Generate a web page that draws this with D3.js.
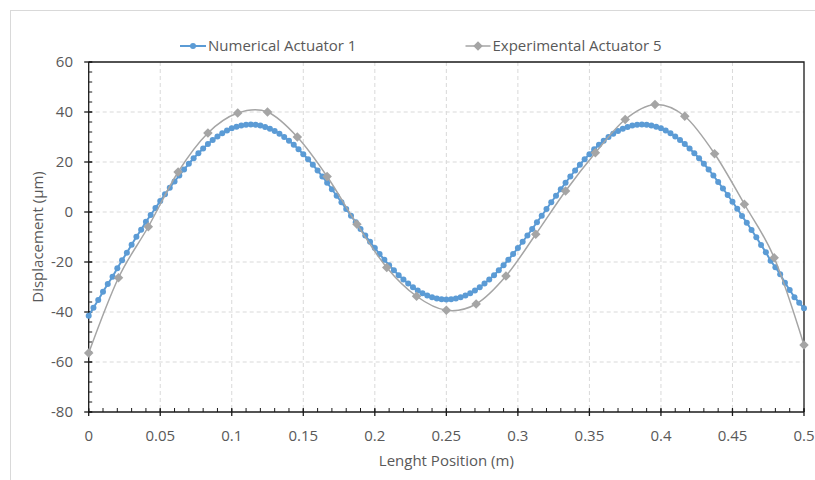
<!DOCTYPE html>
<html>
<head>
<meta charset="utf-8">
<script src="https://cdn.jsdelivr.net/npm/d3@7"></script>
<style>
  html, body { margin: 0; padding: 0; background: #fff; }
  svg { display: block; font-family: "Open Sans", "Segoe UI", sans-serif; }
</style>
</head>
<body>
<svg id="chart" width="815" height="480"></svg>
<script>
// Numerical displacement along the length (151 nodes, 0 .. 0.5 m)
const numericalX = d3.range(151).map(i => i / 300);
const numericalY = [
  -41.5, -38.3, -35.2, -31.9, -28.8, -25.9, -22.5, -19.3, -16.3, -13.1,
  -9.9, -7.1, -3.9, -1.2, 1.6, 4.4, 7.1, 9.7, 12.2, 14.6,
  17.0, 19.3, 21.5, 23.5, 25.4, 27.2, 28.8, 30.2, 31.5, 32.6,
  33.5, 34.1, 34.6, 34.9, 35.0, 34.9, 34.6, 34.0, 33.3, 32.4,
  31.3, 30.0, 28.5, 26.9, 25.1, 23.1, 21.1, 18.9, 16.6, 14.2,
  11.7, 9.1, 6.5, 3.9, 1.2, -1.5, -4.1, -6.8, -9.4, -11.9,
  -14.4, -16.8, -19.1, -21.3, -23.3, -25.3, -27.0, -28.6, -30.1, -31.4,
  -32.5, -33.4, -34.1, -34.6, -34.9, -35.0, -34.9, -34.6, -34.1, -33.4,
  -32.5, -31.4, -30.1, -28.6, -27.0, -25.3, -23.3, -21.3, -19.1, -16.8,
  -14.4, -11.9, -9.4, -6.8, -4.1, -1.5, 1.2, 3.9, 6.5, 9.1,
  11.7, 14.2, 16.6, 18.9, 21.1, 23.1, 25.1, 26.9, 28.5, 30.0,
  31.3, 32.4, 33.3, 34.0, 34.6, 34.9, 35.0, 34.9, 34.6, 34.1,
  33.5, 32.6, 31.5, 30.2, 28.8, 27.2, 25.4, 23.5, 21.5, 19.3,
  17.0, 14.6, 12.0, 9.4, 6.8, 4.1, 1.3, -1.6, -4.3, -7.2,
  -10.1, -13.2, -16.1, -19.5, -22.1, -24.9, -28.3, -31.2, -34.1, -36.3,
  -38.5
];

// Measured displacement (25 sensor positions)
const experimentalX = d3.range(25).map(j => j / 48);
const experimentalY = [
  -56.4, -26.3, -5.9, 16.0, 31.6, 39.6, 40.0, 30.0, 14.2, -4.9,
  -22.2, -33.7, -39.3, -36.8, -25.6, -8.9, 8.4, 23.7, 37.0, 43.0,
  38.3, 23.3, 3.1, -18.3, -53.2
];

const seriesNames = ["Numerical Actuator 1", "Experimental Actuator 5"];
const xTicks = [0, 0.05, 0.1, 0.15, 0.2, 0.25, 0.3, 0.35, 0.4, 0.45, 0.5];
const yTicks = [-80, -60, -40, -20, 0, 20, 40, 60];
const xTitle = "Lenght Position (m)";
const yTitle = "Displacement (µm)";

const blue = "#5B9BD5";
const gray = "#A5A5A5";
const textColor = "#595959";
const gridColor = "#D9D9D9";
const axisColor = "#1a1a1a";
const fontSize = 15;

const svg = d3.select("#chart");
const plot = { left: 88.7, right: 804, top: 62, bottom: 412 };

const x = d3.scaleLinear().domain([0, 0.5]).range([plot.left, plot.right]);
const y = d3.scaleLinear().domain([-80, 60]).range([plot.bottom, plot.top]);

// outer chart frame
svg.append("rect")
  .attr("x", 10.5).attr("y", 10.5)
  .attr("width", 820).attr("height", 480)
  .attr("fill", "none").attr("stroke", gridColor).attr("stroke-width", 1);

// gridlines
const grid = svg.append("g");
grid.selectAll(".gx").data(xTicks.slice(1, -1)).join("line")
  .attr("x1", d => x(d)).attr("x2", d => x(d))
  .attr("y1", plot.top).attr("y2", plot.bottom)
  .attr("stroke", gridColor).attr("stroke-dasharray", "4,3").attr("stroke-width", 1);
grid.selectAll(".gy").data(yTicks.slice(1, -1)).join("line")
  .attr("x1", plot.left).attr("x2", plot.right)
  .attr("y1", d => y(d)).attr("y2", d => y(d))
  .attr("stroke", gridColor).attr("stroke-dasharray", "4,3").attr("stroke-width", 1);

// plot box (top and right edges)
svg.append("path")
  .attr("d", `M${plot.left},${plot.top}H${plot.right}V${plot.bottom}`)
  .attr("fill", "none").attr("stroke", axisColor).attr("stroke-width", 1.3);

// y axis with minor ticks inside
const yMinor = d3.range(-80, 60.001, 4);
const yAxis = svg.append("g");
yAxis.append("line")
  .attr("x1", plot.left).attr("x2", plot.left)
  .attr("y1", plot.top).attr("y2", plot.bottom)
  .attr("stroke", axisColor).attr("stroke-width", 1.3);
yAxis.selectAll(".ymin").data(yMinor).join("line")
  .attr("x1", plot.left).attr("x2", plot.left + 3.5)
  .attr("y1", d => y(d)).attr("y2", d => y(d))
  .attr("stroke", axisColor).attr("stroke-width", 1);
yAxis.selectAll(".ymaj").data(yTicks).join("line")
  .attr("x1", plot.left - 4.5).attr("x2", plot.left + 3.5)
  .attr("y1", d => y(d)).attr("y2", d => y(d))
  .attr("stroke", axisColor).attr("stroke-width", 1.3);
yAxis.selectAll(".ylab").data(yTicks).join("text")
  .attr("x", 73).attr("y", d => y(d)).attr("dy", "0.35em")
  .attr("text-anchor", "end").attr("fill", textColor).attr("font-size", fontSize)
  .text(d => d);

// x axis with minor ticks inside
const xMinor = d3.range(0, 0.5001, 0.01);
const xAxis = svg.append("g");
xAxis.append("line")
  .attr("x1", plot.left).attr("x2", plot.right)
  .attr("y1", plot.bottom).attr("y2", plot.bottom)
  .attr("stroke", axisColor).attr("stroke-width", 1.3);
xAxis.selectAll(".xmin").data(xMinor).join("line")
  .attr("x1", d => x(d)).attr("x2", d => x(d))
  .attr("y1", plot.bottom).attr("y2", plot.bottom - 4)
  .attr("stroke", axisColor).attr("stroke-width", 1);
xAxis.selectAll(".xmaj").data(xTicks).join("line")
  .attr("x1", d => x(d)).attr("x2", d => x(d))
  .attr("y1", plot.bottom - 3.5).attr("y2", plot.bottom + 4)
  .attr("stroke", axisColor).attr("stroke-width", 1.3);
xAxis.selectAll(".xlab").data(xTicks).join("text")
  .attr("x", d => x(d)).attr("y", 440.5)
  .attr("text-anchor", "middle").attr("fill", textColor).attr("font-size", fontSize)
  .text(d => d);

// axis titles
svg.append("text")
  .attr("x", (plot.left + plot.right) / 2).attr("y", 466)
  .attr("text-anchor", "middle").attr("fill", textColor).attr("font-size", fontSize)
  .text(xTitle);
svg.append("text")
  .attr("transform", `translate(43,${(plot.top + plot.bottom) / 2}) rotate(-90)`)
  .attr("text-anchor", "middle").attr("fill", textColor).attr("font-size", fontSize)
  .text(yTitle);

// numerical series: line + circle markers
const numData = numericalX.map((v, i) => [v, numericalY[i]]);
svg.append("path")
  .datum(numData)
  .attr("d", d3.line().x(d => x(d[0])).y(d => y(d[1])))
  .attr("fill", "none").attr("stroke", blue).attr("stroke-width", 2);
svg.append("g").selectAll("circle").data(numData).join("circle")
  .attr("cx", d => x(d[0])).attr("cy", d => y(d[1])).attr("r", 3)
  .attr("fill", blue);

// experimental series: smoothed line + diamond markers
const expData = experimentalX.map((v, i) => [v, experimentalY[i]]);
svg.append("path")
  .datum(expData)
  .attr("d", d3.line().curve(d3.curveCatmullRom.alpha(0)).x(d => x(d[0])).y(d => y(d[1])))
  .attr("fill", "none").attr("stroke", gray).attr("stroke-width", 1.5);
const diamond = d3.symbol().type(d3.symbolDiamond2).size(58);
svg.append("g").selectAll("path").data(expData).join("path")
  .attr("transform", d => `translate(${x(d[0])},${y(d[1])})`)
  .attr("d", diamond).attr("fill", gray);

// legend
const legend = svg.append("g");
const leg1 = legend.append("g").attr("transform", "translate(180,46)");
leg1.append("line").attr("x1", 0).attr("x2", 26).attr("stroke", blue).attr("stroke-width", 2);
leg1.append("circle").attr("cx", 13).attr("r", 3).attr("fill", blue);
leg1.append("text").attr("x", 28).attr("dy", "0.35em")
  .attr("fill", textColor).attr("font-size", fontSize).text(seriesNames[0]);

const leg2 = legend.append("g").attr("transform", "translate(465.5,46)");
leg2.append("line").attr("x1", 0).attr("x2", 25).attr("stroke", gray).attr("stroke-width", 1.5);
leg2.append("path").attr("transform", "translate(12.5,0)").attr("d", diamond).attr("fill", gray);
leg2.append("text").attr("x", 27).attr("dy", "0.35em")
  .attr("fill", textColor).attr("font-size", fontSize).text(seriesNames[1]);
</script>
</body>
</html>
